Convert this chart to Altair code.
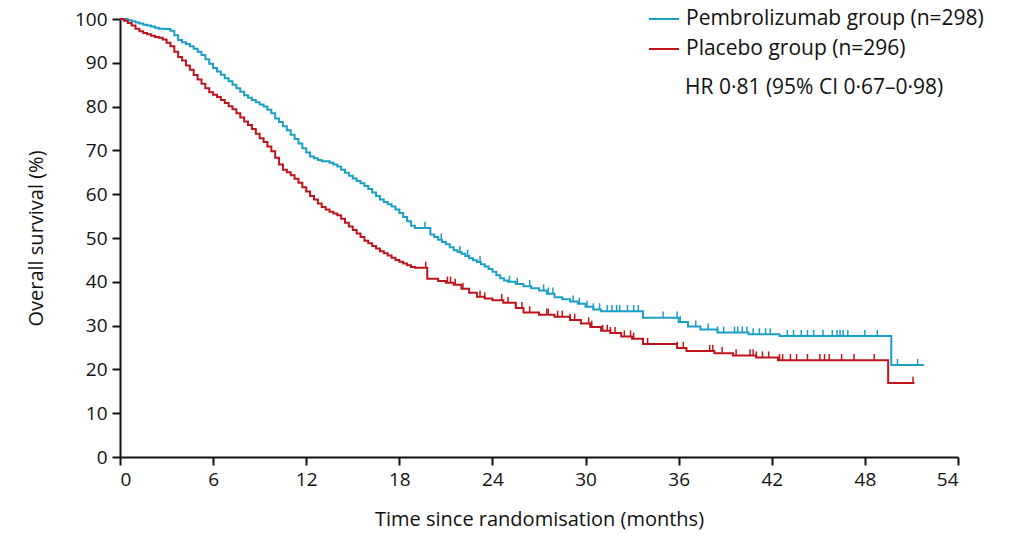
import altair as alt
import pandas as pd
import numpy as np

# Kaplan-Meier step points (months, overall survival %)
pembro_t = [0, 0.25, 0.5, 0.75, 1, 1.25, 1.5, 1.75, 2, 2.25, 2.5, 3.0, 3.25, 3.5, 3.75, 4, 4.25,
            4.5, 4.75, 5, 5.25, 5.5, 5.75, 6, 6.25, 6.5, 6.75, 7, 7.25, 7.5, 7.75, 8, 8.25, 8.5,
            8.75, 9, 9.25, 9.5, 9.75, 10, 10.25, 10.5, 10.75, 11, 11.25, 11.5, 11.75, 12, 12.25,
            12.5, 12.75, 13, 13.5, 13.75, 14, 14.25, 14.5, 14.75, 15, 15.25, 15.5, 15.75, 16,
            16.25, 16.5, 16.75, 17, 17.25, 17.5, 17.75, 18, 18.25, 18.5, 18.75, 19, 20, 20.25,
            20.5, 20.75, 21, 21.25, 21.5, 21.75, 22, 22.25, 22.5, 22.75, 23, 23.25, 23.5, 23.75,
            24, 24.25, 24.5, 24.75, 25.0, 25.5, 26.0, 26.5, 27.0, 27.5, 28.0, 28.5, 29.0, 29.5,
            30.0, 30.5, 31.0, 33.7, 36.0, 36.6, 37.4, 38.5, 40.5, 42.5, 49.7, 51.8]
pembro_s = [100, 100, 99.7, 99.5, 99.2, 99.0, 98.7, 98.5, 98.3, 98.0, 97.8, 97.7, 97.3, 96.3,
            95.2, 94.7, 94.3, 93.8, 93.2, 92.5, 91.8, 90.8, 89.8, 88.8, 88.0, 87.3, 86.5, 85.8,
            85.0, 84.2, 83.4, 82.6, 82.0, 81.5, 81.0, 80.5, 80.0, 79.3, 78.5, 77.3, 76.5, 75.5,
            74.6, 73.6, 72.6, 71.6, 70.5, 69.5, 68.6, 68.2, 67.8, 67.5, 67.2, 66.8, 66.3, 65.6,
            64.9, 64.2, 63.6, 63.0, 62.5, 61.9, 61.2, 60.4, 59.6, 58.8, 58.2, 57.7, 57.2, 56.5,
            55.7, 54.8, 53.8, 52.8, 52.3, 50.8, 50.2, 49.6, 49.1, 48.6, 47.9, 47.2, 46.8, 46.4,
            45.9, 45.4, 44.9, 44.5, 44.0, 43.5, 42.9, 42.3, 41.5, 40.8, 40.3, 40.0, 39.5, 39.0,
            38.5, 38.0, 37.3, 36.5, 36.0, 35.5, 35.0, 34.3, 33.7, 33.3, 31.8, 30.8, 29.8, 29.1,
            28.4, 28.0, 27.6, 21.0, 21.0]

placebo_t = [0, 0.25, 0.5, 0.75, 1, 1.25, 1.5, 1.75, 2, 2.25, 2.5, 2.75, 3, 3.25, 3.5, 3.75, 4,
             4.25, 4.5, 4.75, 5, 5.25, 5.5, 5.75, 6, 6.25, 6.5, 6.75, 7, 7.25, 7.5, 7.75, 8, 8.25,
             8.5, 8.75, 9, 9.25, 9.5, 9.75, 10, 10.25, 10.5, 10.75, 11, 11.25, 11.5, 11.75, 12,
             12.25, 12.5, 12.75, 13, 13.25, 13.5, 13.75, 14, 14.25, 14.5, 14.75, 15, 15.25, 15.5,
             15.75, 16, 16.25, 16.5, 16.75, 17, 17.25, 17.5, 17.75, 18, 18.25, 18.5, 18.75, 19,
             19.8, 20.5, 21.0, 21.5, 22.0, 22.5, 23.0, 23.5, 24.0, 24.7, 25.5, 26.0, 27.0, 28.0,
             29.0, 29.7, 30.3, 31.0, 31.6, 32.3, 33.0, 33.7, 35.9, 36.5, 38.3, 39.5, 41.0, 42.4,
             49.5, 51.2]
placebo_s = [100, 99.6, 99.1, 98.5, 97.8, 97.2, 96.8, 96.5, 96.2, 95.9, 95.7, 95.3, 94.6, 93.8,
             92.5, 91.3, 90.5, 89.4, 88.4, 87.2, 86.2, 85.2, 84.2, 83.3, 82.7, 82.2, 81.5, 80.8,
             80.1, 79.4, 78.5, 77.5, 76.6, 75.8, 74.9, 73.8, 72.8, 71.9, 70.9, 69.8, 68.3, 66.8,
             65.6, 65.0, 64.3, 63.5, 62.6, 61.6, 60.6, 59.6, 58.8, 57.9, 57.1, 56.5, 56.0, 55.6,
             55.2, 54.4, 53.5, 52.6, 51.8, 51.0, 50.2, 49.4, 48.8, 48.2, 47.6, 47.0, 46.5, 46.0,
             45.5, 45.0, 44.6, 44.2, 43.8, 43.4, 43.2, 40.7, 40.2, 39.8, 39.3, 38.4, 37.5, 36.6,
             36.2, 35.8, 35.2, 34.0, 33.0, 32.5, 32.0, 31.3, 30.5, 29.7, 28.8, 28.3, 27.5, 27.0,
             25.8, 24.9, 24.2, 23.7, 23.2, 22.7, 22.1, 16.9, 16.9]

# censoring times (months)
pembro_cens = [19.65, 20.7, 21.9, 22.4, 23.2, 25.1, 25.6, 26.4, 27.3, 27.6, 27.9, 29.2, 29.6,
               30.1, 30.5, 30.9, 31.4, 31.7, 32.0, 32.2, 32.7, 33.1, 33.4, 35.0, 35.9, 36.1,
               37.1, 37.9, 38.5, 38.9, 39.6, 39.8, 40.1, 40.4, 40.8, 41.2, 41.6, 41.9, 43.0,
               43.4, 43.9, 44.3, 44.7, 45.3, 45.9, 46.2, 46.4, 46.6, 46.9, 48.0, 48.8, 50.1, 51.4]
placebo_cens = [19.7, 21.1, 21.3, 21.6, 22.1, 23.2, 23.5, 24.6, 25.0, 25.5, 25.9, 26.4, 27.5,
                27.6, 28.2, 28.5, 29.0, 29.3, 30.2, 30.4, 31.1, 31.4, 31.6, 31.9, 32.5, 32.9,
                33.1, 34.0, 35.9, 36.3, 38.0, 38.2, 38.8, 39.7, 40.6, 40.8, 41.0, 41.4, 41.8,
                42.5, 42.7, 43.2, 43.6, 44.3, 45.1, 45.4, 45.7, 46.5, 47.3, 48.6, 51.1]

groups = ["Pembrolizumab group (n=298)", "Placebo group (n=296)"]
colors = ["#1b9fc6", "#c0141c"]
x_ticks = [0, 6, 12, 18, 24, 30, 36, 42, 48, 54]
y_ticks = [0, 10, 20, 30, 40, 50, 60, 70, 80, 90, 100]


def step_value(ts, ss, t):
    idx = np.searchsorted(ts, t, side="right") - 1
    return ss[max(idx, 0)]


lines = pd.concat([
    pd.DataFrame({"t": pembro_t, "s": pembro_s, "g": groups[0]}),
    pd.DataFrame({"t": placebo_t, "s": placebo_s, "g": groups[1]}),
])
cens = pd.concat([
    pd.DataFrame({"t": pembro_cens,
                  "s": [step_value(pembro_t, pembro_s, c) for c in pembro_cens],
                  "g": groups[0]}),
    pd.DataFrame({"t": placebo_cens,
                  "s": [step_value(placebo_t, placebo_s, c) for c in placebo_cens],
                  "g": groups[1]}),
])
cens["s2"] = cens["s"] + 1.4

FONT = "Open Sans"
xs = alt.Scale(domain=[0, 54], nice=False)
ys = alt.Scale(domain=[0, 100], nice=False)
cs = alt.Scale(domain=groups, range=colors)

line = alt.Chart(lines).mark_line(interpolate="step-after", strokeWidth=2).encode(
    x=alt.X("t:Q", scale=xs, axis=alt.Axis(values=x_ticks, title="Time since randomisation (months)")),
    y=alt.Y("s:Q", scale=ys, axis=alt.Axis(values=y_ticks, title="Overall survival (%)")),
    color=alt.Color("g:N", scale=cs, sort=groups,
                    legend=alt.Legend(title=None, orient="none", legendX=528, legendY=-16,
                                      symbolType="stroke", symbolSize=900, symbolStrokeWidth=2,
                                      labelFontSize=21, labelFont=FONT, labelColor="#111",
                                      rowPadding=4, labelOffset=6, labelLimit=450)),
)

ticks = alt.Chart(cens).mark_rule(strokeWidth=1.5).encode(
    x="t:Q", y="s:Q", y2="s2:Q",
    color=alt.Color("g:N", scale=cs, legend=None),
)

hr = alt.Chart(pd.DataFrame({"txt": ["HR 0·81 (95% CI 0·67–0·98)"]})).mark_text(
    align="left", baseline="middle", fontSize=21, font=FONT, color="#111"
).encode(x=alt.value(565), y=alt.value(69), text="txt:N")

chart = alt.layer(line, ticks, hr).properties(
    width=838, height=438,
    autosize=alt.AutoSizeParams(type="none"),
    padding={"left": 120, "top": 19, "right": 55, "bottom": 79},
).configure_view(stroke=None).configure_axis(
    grid=False, domainColor="#111", domainWidth=2, tickColor="#111", tickWidth=2,
    tickSize=8, labelFont=FONT, labelFontSize=19, labelColor="#111", titleFont=FONT,
    titleFontSize=20, titleFontWeight="normal", titleColor="#111", labelPadding=5,
).configure_axisY(titlePadding=28).configure_axisX(titlePadding=20)

chart.save("out.html", embed_options={"renderer": "svg", "actions": False})
